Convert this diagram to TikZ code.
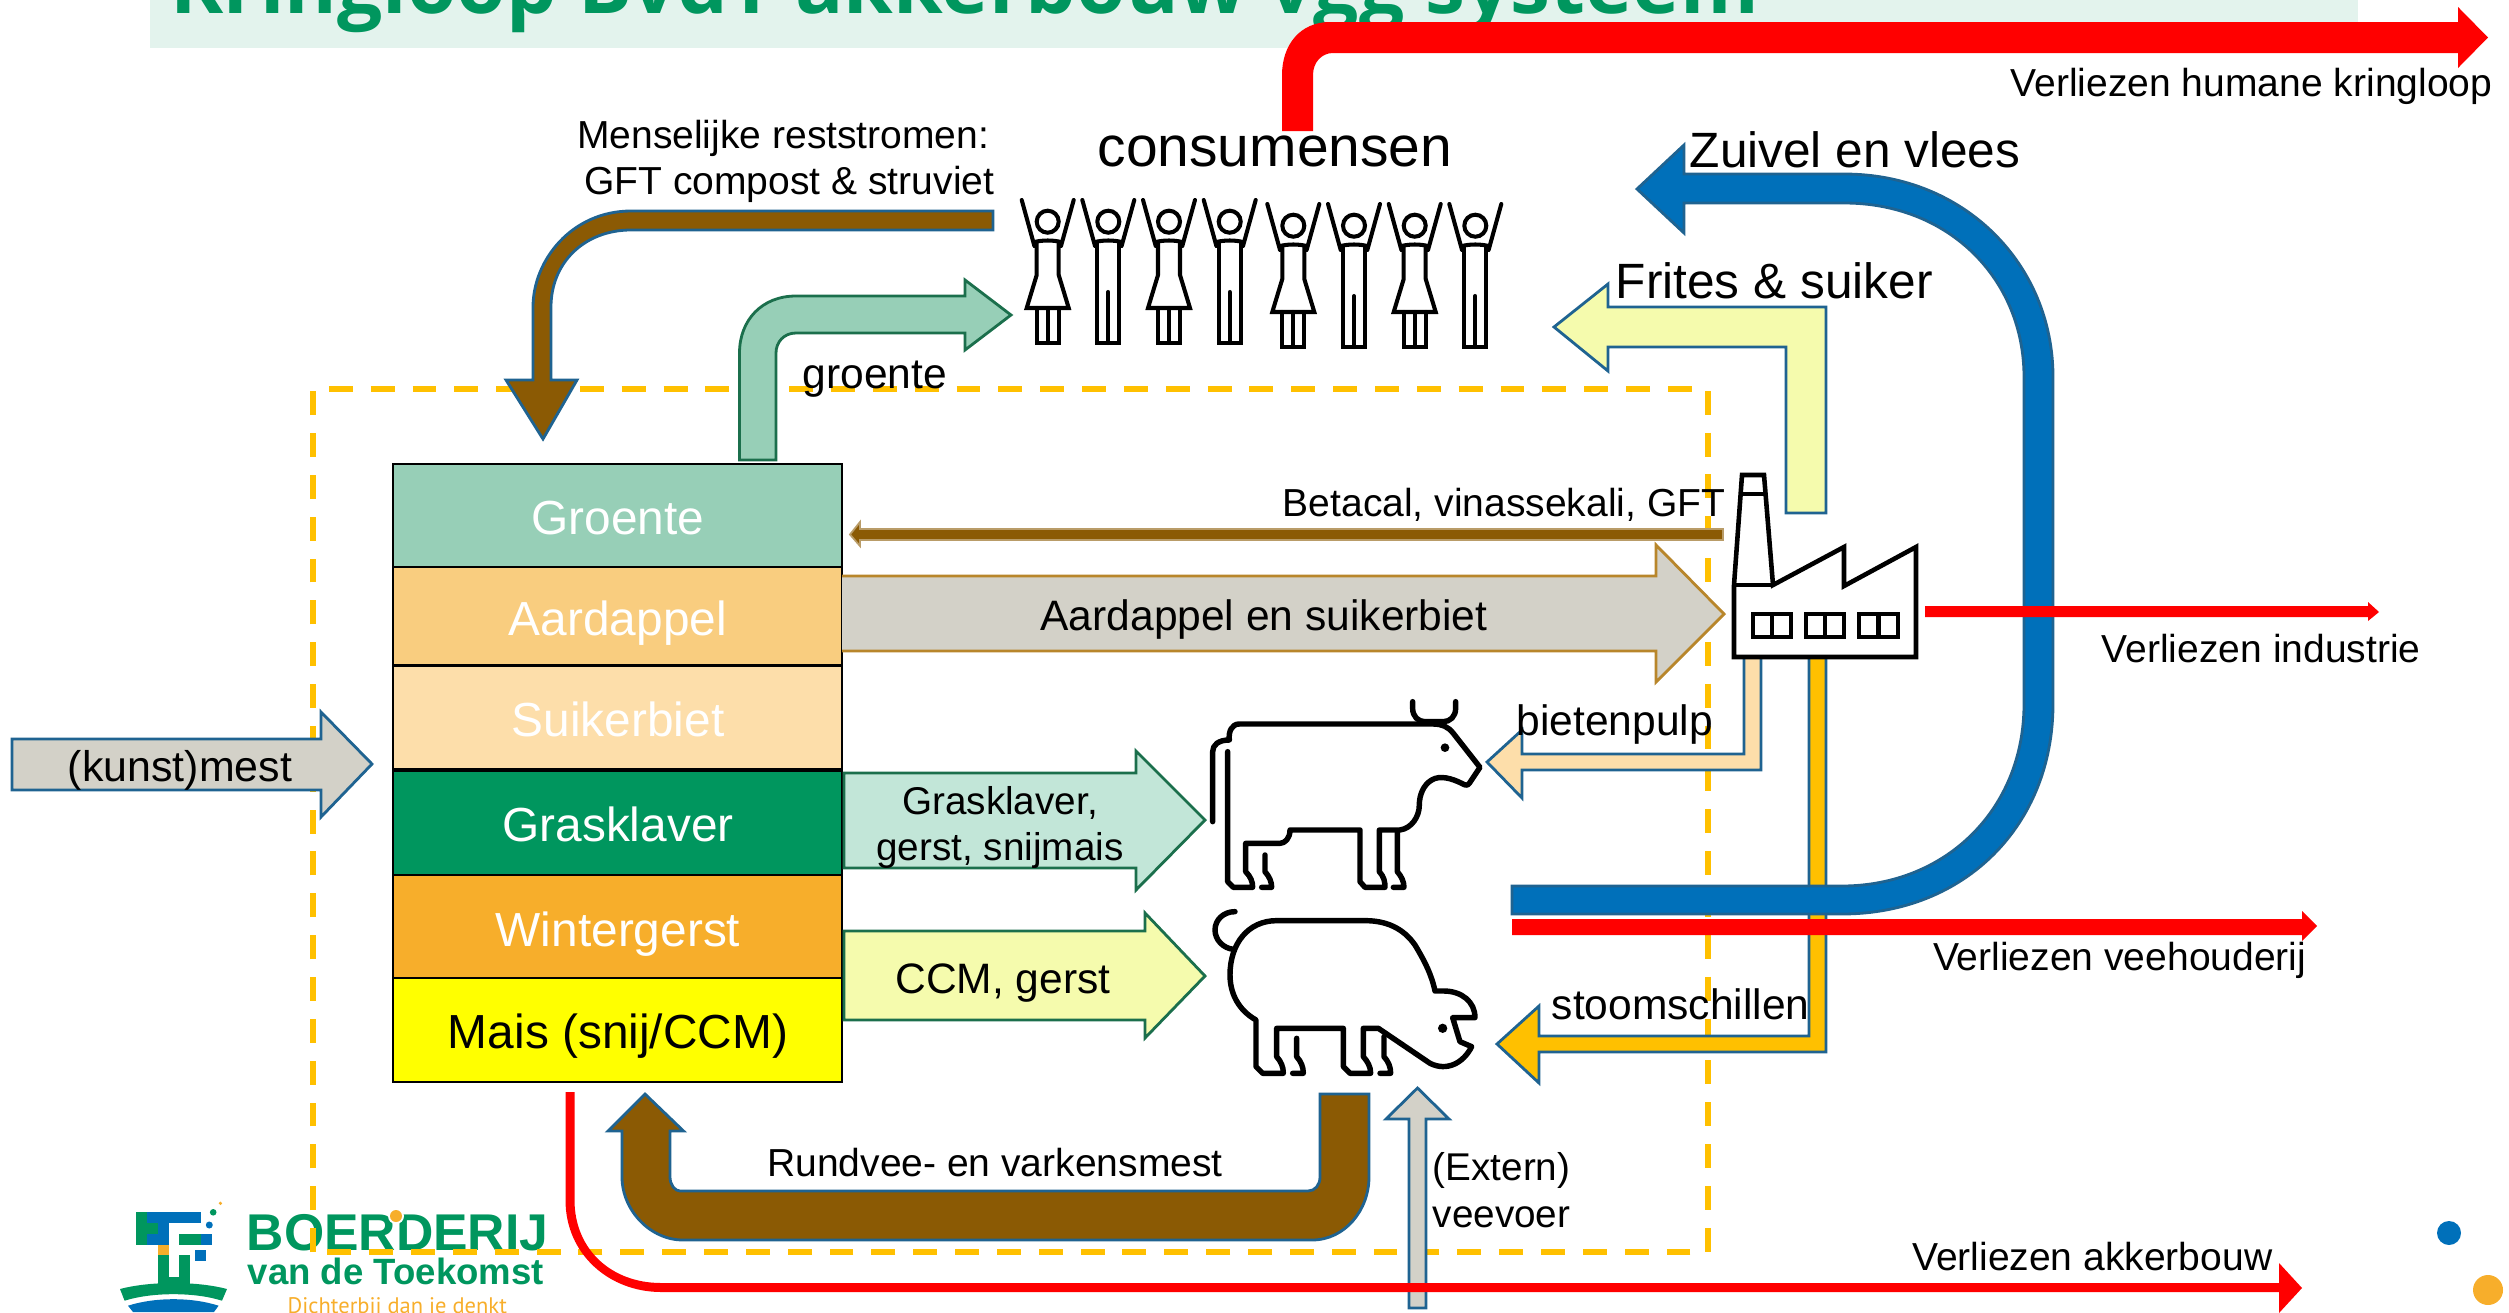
\documentclass[tikz,border=0pt]{standalone}
\usepackage{fontspec}
\setmainfont{Liberation Sans}
\newfontfamily\titlefont{Open Sans}
\newfontfamily\logofont{PT Sans}
\definecolor{kaderblauw}{HTML}{1F6391}
\definecolor{kadergroen}{HTML}{1B6F4C}
\definecolor{kaderbruin}{HTML}{B8862B}
\definecolor{bvdtgroen}{HTML}{00965E}
\definecolor{bvdtblauw}{HTML}{0070BA}
\definecolor{bvdtoranje}{HTML}{F7AE2B}
\definecolor{kaftgeel}{HTML}{FFC000}
\definecolor{maisgeel}{HTML}{FFFF00}
\definecolor{mestbruin}{HTML}{8B5A04}
\definecolor{grijsvlak}{HTML}{D3D1C8}
\definecolor{groentevlak}{HTML}{97CFB7}
\definecolor{geelvlak}{HTML}{F5FBAD}
\definecolor{bietvlak}{HTML}{FDDEAA}
\definecolor{aardappelvlak}{HTML}{F9CD7F}
\newcommand{\vrouw}[2]{
\begin{scope}[shift={(#1,#2)},figuur]
\draw (-26,20) -- (-13.3,66) (26,20) -- (13.3,66);
\draw (-13.3,62) .. controls (-5,60) and (5,60) .. (13.3,62);
\draw (0,41.7) circle (11);
\draw (-11,63) -- (-11,95) -- (-21,128) -- (21,128) -- (11,95) -- (11,63);
\draw (-11,128) -- (-11,163) -- (11,163) -- (11,128);
\draw (0,128) -- (0,163);
\end{scope}
}
\newcommand{\man}[2]{
\begin{scope}[shift={(#1,#2)},figuur]
\draw (-26,20) -- (-13.3,66) (26,20) -- (13.3,66);
\draw (-13.3,62) .. controls (-5,60) and (5,60) .. (13.3,62);
\draw (0,41.7) circle (11);
\draw (-11,63) -- (-11,163) -- (11,163) -- (11,63);
\draw (0,112) -- (0,163);
\end{scope}
}
\tikzset{
lbl/.style={anchor=base,inner sep=0pt,font=\fontsize{11.1}{13}\selectfont},
lblbig/.style={anchor=base,inner sep=0pt,font=\fontsize{14.1}{16}\selectfont},
lblmid/.style={anchor=base,inner sep=0pt,font=\fontsize{12.1}{14}\selectfont},
veld/.style={draw=black,line width=0.8pt},
veldlbl/.style={anchor=base,inner sep=0pt,text=white,font=\fontsize{13.6}{16}\selectfont},
pijlb/.style={draw=kaderblauw,line width=0.8pt,line join=miter},
pijlg/.style={draw=kadergroen,line width=0.8pt,line join=miter},
figuur/.style={line width=1.15pt,line cap=round},
dier/.style={line width=1.55pt,line cap=round,line join=round},
fabriek/.style={line width=1.3pt,line join=miter}
}
\begin{document}
\begin{tikzpicture}
[x = 0.01cm,
y = -0.01cm]
\useasboundingbox (0,0) rectangle (2509,1312);
\clip (0,0) rectangle (2509,1312);

% titel
\fill [color=bvdtgroen!11!white] (150,0) rectangle (2358,48);
\node[anchor=base west,inner sep=0pt,text=bvdtgroen,font=\fontsize{22.8}{26}\titlefont\bfseries] (titel) at (170,13) {Kringloop BvdT akkerbouw vgg systeem};

% logo
\fill [bvdtgroen] (136.4,1212.3) rectangle (147,1245);
\fill [bvdtgroen] (147,1222.7) rectangle (158,1234.3);
\fill [bvdtblauw] (147,1212.3) rectangle (201.4,1222.7);
\fill [bvdtblauw] (158,1222.7) rectangle (168.6,1245);
\fill [bvdtblauw] (147,1234.3) rectangle (158,1245);
\fill [bvdtgroen] (179.3,1234.3) rectangle (201.4,1245);
\fill [bvdtblauw] (201.4,1234.3) rectangle (212,1245);
\fill [bvdtoranje] (158,1245) rectangle (168.6,1255.3);
\fill [bvdtblauw] (195.4,1250) rectangle (206.4,1261);
\fill [bvdtgroen] (158,1255.3) rectangle (168.6,1284);
\fill [bvdtgroen] (168.6,1276.7) rectangle (179.3,1284);
\fill [bvdtgroen] (179.3,1255.3) rectangle (190,1284);
\fill [bvdtgroen] (120,1289) .. controls (150,1281) and (197,1281) .. (227,1289) -- (222,1300.7) .. controls (195,1292) and (152,1292) .. (124.6,1300.7) -- cycle;
\fill [bvdtblauw] (128,1305.7) .. controls (155,1297) and (192,1297) .. (218.6,1305.7) -- (214,1312) -- (133,1312) -- cycle;
\fill [bvdtblauw] (209.3,1225) circle (3.5);
\fill [bvdtgroen] (213.2,1212.3) circle (3.3);
\fill [bvdtoranje] (220.4,1203.3) circle (1.8);
\node[anchor=base west,inner sep=0pt,text=bvdtgroen,font=\fontsize{14.7}{17}\selectfont\bfseries] (logoboer) at (246,1250) {BOERDERIJ};
\fill [white] (396,1216) circle (8);
\fill [bvdtoranje] (396,1216) circle (6);
\node[anchor=base west,inner sep=0pt,text=bvdtgroen,font=\fontsize{10.4}{12}\selectfont\bfseries] (logotoek) at (247,1284) {van de Toekomst};
\node[anchor=base west,inner sep=0pt,text=bvdtoranje,font=\fontsize{6.4}{8}\logofont] (logoleus) at (287,1313) {Dichterbij dan je denkt};

\fill [bvdtblauw] (2449,1233) circle (12);
\fill [bvdtoranje] (2488,1290) circle (15);

% systeemgrens
\draw[color=kaftgeel,line width=1.6pt,dash pattern=on 6.8pt off 5.1pt] (313,1252) -- (313,389) -- (1708,389) -- (1708,1252) -- cycle;

% bouwplan
\draw[veld,fill=groentevlak] (393,464) rectangle (842,567);
\draw[veld,fill=aardappelvlak] (393,567) rectangle (842,665.5);
\draw[veld,fill=bietvlak] (393,665.5) rectangle (842,770);
\draw[veld,fill=bvdtgroen] (393,770) rectangle (842,875);
\draw[veld,fill=bvdtoranje] (393,875) rectangle (842,978);
\draw[veld,fill=maisgeel] (393,978) rectangle (842,1082);
\draw[line width=1.3pt] (393,770) -- (842,770);
\node[veldlbl] (groente) at (618,534) {Groente};
\node[veldlbl] (aardappel) at (618,635) {Aardappel};
\node[veldlbl] (suikerbiet) at (618,736) {Suikerbiet};
\node[veldlbl] (grasklaver) at (618,841) {Grasklaver};
\node[veldlbl] (wintergerst) at (618,946) {Wintergerst};
\node[veldlbl,text=black] (mais) at (618,1048) {Mais (snij/CCM)};

% stromen
\draw[pijlb,fill=grijsvlak] (12,739) -- (321,739) -- (321,712) -- (372,764) -- (321,817) -- (321,790) -- (12,790) -- cycle;
\node[anchor=base,inner sep=0pt,font=\fontsize{12.2}{15}\selectfont] (kunstmest) at (180,781) {(kunst)mest};

\draw[pijlb,fill=mestbruin] (993,211) -- (631,211) .. controls (572,211) and (533,260) .. (533,307) -- (533,380) -- (506,380) -- (543,439) -- (577,380) -- (551,380) -- (551,307) .. controls (551,262) and (585,230) .. (631,230) -- (993,230) -- cycle;
\node[lbl,anchor=base east] (mens1) at (990,148) {Menselijke reststromen:};
\node[lbl,anchor=base east] (mens2) at (995,194) {GFT compost \& struviet};

\draw[pijlg,fill=groentevlak] (739.5,460) -- (739.5,353) .. controls (739.5,320) and (762,296) .. (796,296) -- (965,296) -- (965,280) -- (1011,315) -- (965,350) -- (965,333) -- (796,333) .. controls (784,333) and (776,342) .. (776,353) -- (776,460) -- cycle;
\node[lblmid] (groentelbl) at (875,388) {groente};

\fill [color=red] (1282,131) -- (1282,75) .. controls (1282,45) and (1300,22) .. (1330,22) -- (2458,22) -- (2458,7) -- (2488,37.5) -- (2458,68) -- (2458,53) -- (1333,53) .. controls (1322,53) and (1313,62) .. (1313,75) -- (1313,131) -- cycle;
\node[lbl,anchor=base east] (humaan) at (2493,97) {Verliezen humane kringloop};

\node[anchor=base,inner sep=0pt,font=\fontsize{16.2}{19}\selectfont] (consumensen) at (1275,166) {consumensen};
\vrouw{1047.7}{180}
\man{1108.3}{180}
\vrouw{1169}{180}
\man{1229.7}{180}
\vrouw{1293.3}{184}
\man{1354}{184}
\vrouw{1414.7}{184}
\man{1475.3}{184}

\draw[pijlb,fill=geelvlak] (1826,513) -- (1826,307) -- (1608,307) -- (1608,284) -- (1554,327) -- (1608,371) -- (1608,347) -- (1786,347) -- (1786,513) -- cycle;
\node[lblbig,anchor=base west] (frites) at (1615,298) {Frites \& suiker};

\draw[fill=mestbruin,draw=mestbruin!60!white,line width=0.5pt] (1723,529) -- (860,529) -- (860,522) -- (850,534.5) -- (860,546) -- (860,540) -- (1723,540) -- cycle;
\node[lbl,anchor=base east] (betacal) at (1726,516) {Betacal, vinassekali, GFT};

\fill [color=grijsvlak] (842,576) -- (1656,576) -- (1656,545) -- (1724,614) -- (1656,682) -- (1656,651) -- (842,651) -- cycle;
\draw[draw=kaderbruin,line width=0.8pt] (842,576) -- (1656,576) -- (1656,545) -- (1724,614) -- (1656,682) -- (1656,651) -- (842,651);
\node[lblmid] (aenslbl) at (1264,630) {Aardappel en suikerbiet};

\draw[pijlg,fill=bvdtgroen!24!white] (844,773) -- (1136,773) -- (1136,751) -- (1205,820) -- (1136,890) -- (1136,868) -- (844,868) -- cycle;
\node[lbl,font=\fontsize{11}{13}\selectfont] (gras1) at (1000,814) {Grasklaver,};
\node[lbl,font=\fontsize{11}{13}\selectfont] (gras2) at (1000,860) {gerst, snijmais};

\draw[pijlg,fill=geelvlak] (844,931) -- (1145,931) -- (1145,913) -- (1205,976) -- (1145,1038) -- (1145,1020) -- (844,1020) -- cycle;
\node[lblmid] (ccm) at (1003,993) {CCM, gerst};

\draw[pijlb,fill=bietvlak] (1761,657) -- (1761,770) -- (1522,770) -- (1522,798) -- (1487,762) -- (1522,730) -- (1522,754) -- (1744,754) -- (1744,657) -- cycle;
\node[lblmid,anchor=base west] (pulp) at (1516,735) {bietenpulp};

\draw[pijlb,fill=kaftgeel] (1826,657) -- (1826,1052) -- (1539,1052) -- (1539,1083) -- (1497,1044) -- (1539,1006) -- (1539,1036) -- (1809,1036) -- (1809,657) -- cycle;
\node[lblmid,anchor=base west] (stoom) at (1551,1019) {stoomschillen};

\draw[pijlb,fill=bvdtblauw] (1512,886) -- (1842,886) .. controls (1945,886) and (2024,810) .. (2024,704) -- (2024,377) .. controls (2024,280) and (1950,203) .. (1844,203) -- (1684,203) -- (1684,233) -- (1637,189) -- (1684,145) -- (1684,174) -- (1844,174) .. controls (1965,174) and (2053,265) .. (2053,377) -- (2053,704) .. controls (2053,825) and (1965,914) .. (1842,914) -- (1512,914) -- cycle;
\node[lblbig,anchor=base west] (zuivel) at (1689,167) {Zuivel en vlees};

\fill [color=red] (1512,919) -- (2302,919) -- (2302,911) -- (2317,926) -- (2302,941) -- (2302,935) -- (1512,935) -- cycle;
\node[lbl,anchor=base east] (veehouderij) at (2307,970) {Verliezen veehouderij};

\fill [color=red] (1925,606) -- (2368,606) -- (2368,602) -- (2379,612) -- (2368,621) -- (2368,617) -- (1925,617) -- cycle;
\node[lbl,anchor=base west] (industrie) at (2101,662) {Verliezen industrie};

\draw[pijlb,fill=mestbruin] (1320,1094) -- (1320,1177) .. controls (1320,1185) and (1315,1191) .. (1308,1191) -- (680,1191) .. controls (675,1191) and (670,1185) .. (670,1177) -- (670,1131) -- (683.5,1131) -- (645,1094) -- (608,1131) -- (622,1131) -- (622,1177) .. controls (622,1210) and (650,1240) .. (683,1240) -- (1312,1240) .. controls (1345,1240) and (1369,1210) .. (1369,1177) -- (1369,1094) -- cycle;
\node[lbl] (rundvee) at (995,1176) {Rundvee- en varkensmest};

\draw[pijlb,fill=grijsvlak] (1409,1308) -- (1409,1119) -- (1386,1119) -- (1417.5,1088) -- (1449,1119) -- (1426,1119) -- (1426,1308) -- cycle;
\node[lbl,anchor=base west,font=\fontsize{11}{13}\selectfont] (extern) at (1432,1180) {(Extern)};
\node[lbl,anchor=base west,font=\fontsize{11}{13}\selectfont] (veevoer) at (1432,1227) {veevoer};

\fill [color=red] (565.5,1092) -- (565.5,1200) .. controls (565.5,1255) and (610,1292) .. (661,1292) -- (2279,1292) -- (2279,1313) -- (2302,1288) -- (2279,1263) -- (2279,1283) -- (661,1283) .. controls (612,1283) and (574.5,1250) .. (574.5,1200) -- (574.5,1092) -- cycle;
\node[lbl,anchor=base east] (akkerbouw) at (2273,1270) {Verliezen akkerbouw};

% fabriek
\draw[fabriek,fill=white] (1734,657) -- (1734,585) -- (1742,475) -- (1764,475) -- (1773,585) -- (1844,547) -- (1844,586) -- (1916,547) -- (1916,657) -- cycle;
\draw[fabriek] (1734,585) -- (1773,585);
\draw[fabriek] (1741,494) -- (1765,494);
\draw[fabriek] (1753,614) rectangle (1791,637);
\draw[fabriek] (1772,614) -- (1772,637);
\draw[fabriek] (1806,614) rectangle (1844,637);
\draw[fabriek] (1825,614) -- (1825,637);
\draw[fabriek] (1859,614) rectangle (1898,637);
\draw[fabriek] (1878.5,614) -- (1878.5,637);

% koe
\begin{scope}[shift={(1180,680)},scale=0.3333,dier]
\draw (98,425) -- (98,215) .. controls (98,195) and (115,180) .. (148,180) .. controls (145,155) and (155,132) .. (178,132) -- (760,132) .. controls (785,132) and (805,140) .. (820,160) -- (900,262) -- (868,310) .. controls (862,318) and (855,316) .. (845,310) .. controls (815,295) and (780,285) .. (755,300) .. controls (730,315) and (718,345) .. (718,375) .. controls (718,410) and (695,445) .. (660,450) -- (598,450) -- (598,575) .. controls (612,590) and (615,605) .. (615,622) -- (555,622) -- (540,605) -- (540,450) -- (330,450) .. controls (330,475) and (315,490) .. (300,490) -- (197,490) -- (197,575) .. controls (212,590) and (218,605) .. (218,622) -- (160,622) -- (143,605) -- (143,215);
\draw (652,455) -- (652,575) .. controls (665,590) and (672,605) .. (672,622) -- (640,622);
\draw (255,525) -- (255,575) .. controls (268,590) and (275,605) .. (275,622) -- (245,622);
\draw (698,65) -- (698,85) .. controls (698,110) and (715,125) .. (735,125) -- (790,125) .. controls (810,125) and (827,110) .. (827,85) -- (827,65);
\fill (795,203) circle (13);
\end{scope}

% varken
\begin{scope}[shift={(1180,680)},scale=0.3333,dier]
\draw (165,695) .. controls (130,695) and (105,720) .. (105,750) .. controls (105,780) and (130,805) .. (160,808);
\draw (290,1045) -- (290,1130) .. controls (303,1145) and (310,1160) .. (310,1180) -- (248,1180) -- (228,1160) -- (228,1020) .. controls (175,990) and (150,940) .. (150,885) .. controls (150,790) and (205,722) .. (290,722) -- (555,722) .. controls (620,722) and (670,745) .. (705,795) .. controls (735,845) and (755,885) .. (765,933) -- (790,933) .. controls (845,933) and (885,965) .. (885,1013) -- (818,1013) -- (840,1085) -- (875,1100) .. controls (850,1150) and (800,1175) .. (750,1150) -- (595,1045) -- (550,1045) -- (550,1130) .. controls (563,1145) and (572,1160) .. (572,1180) -- (510,1180) -- (490,1160) -- (490,1045) -- cycle;
\draw (612,1070) -- (612,1130) .. controls (625,1145) and (632,1160) .. (632,1180) -- (600,1180);
\draw (350,1075) -- (350,1130) .. controls (363,1145) and (370,1160) .. (370,1180) -- (338,1180);
\fill (788,1045) circle (14);
\end{scope}
\end{tikzpicture}
\end{document}
